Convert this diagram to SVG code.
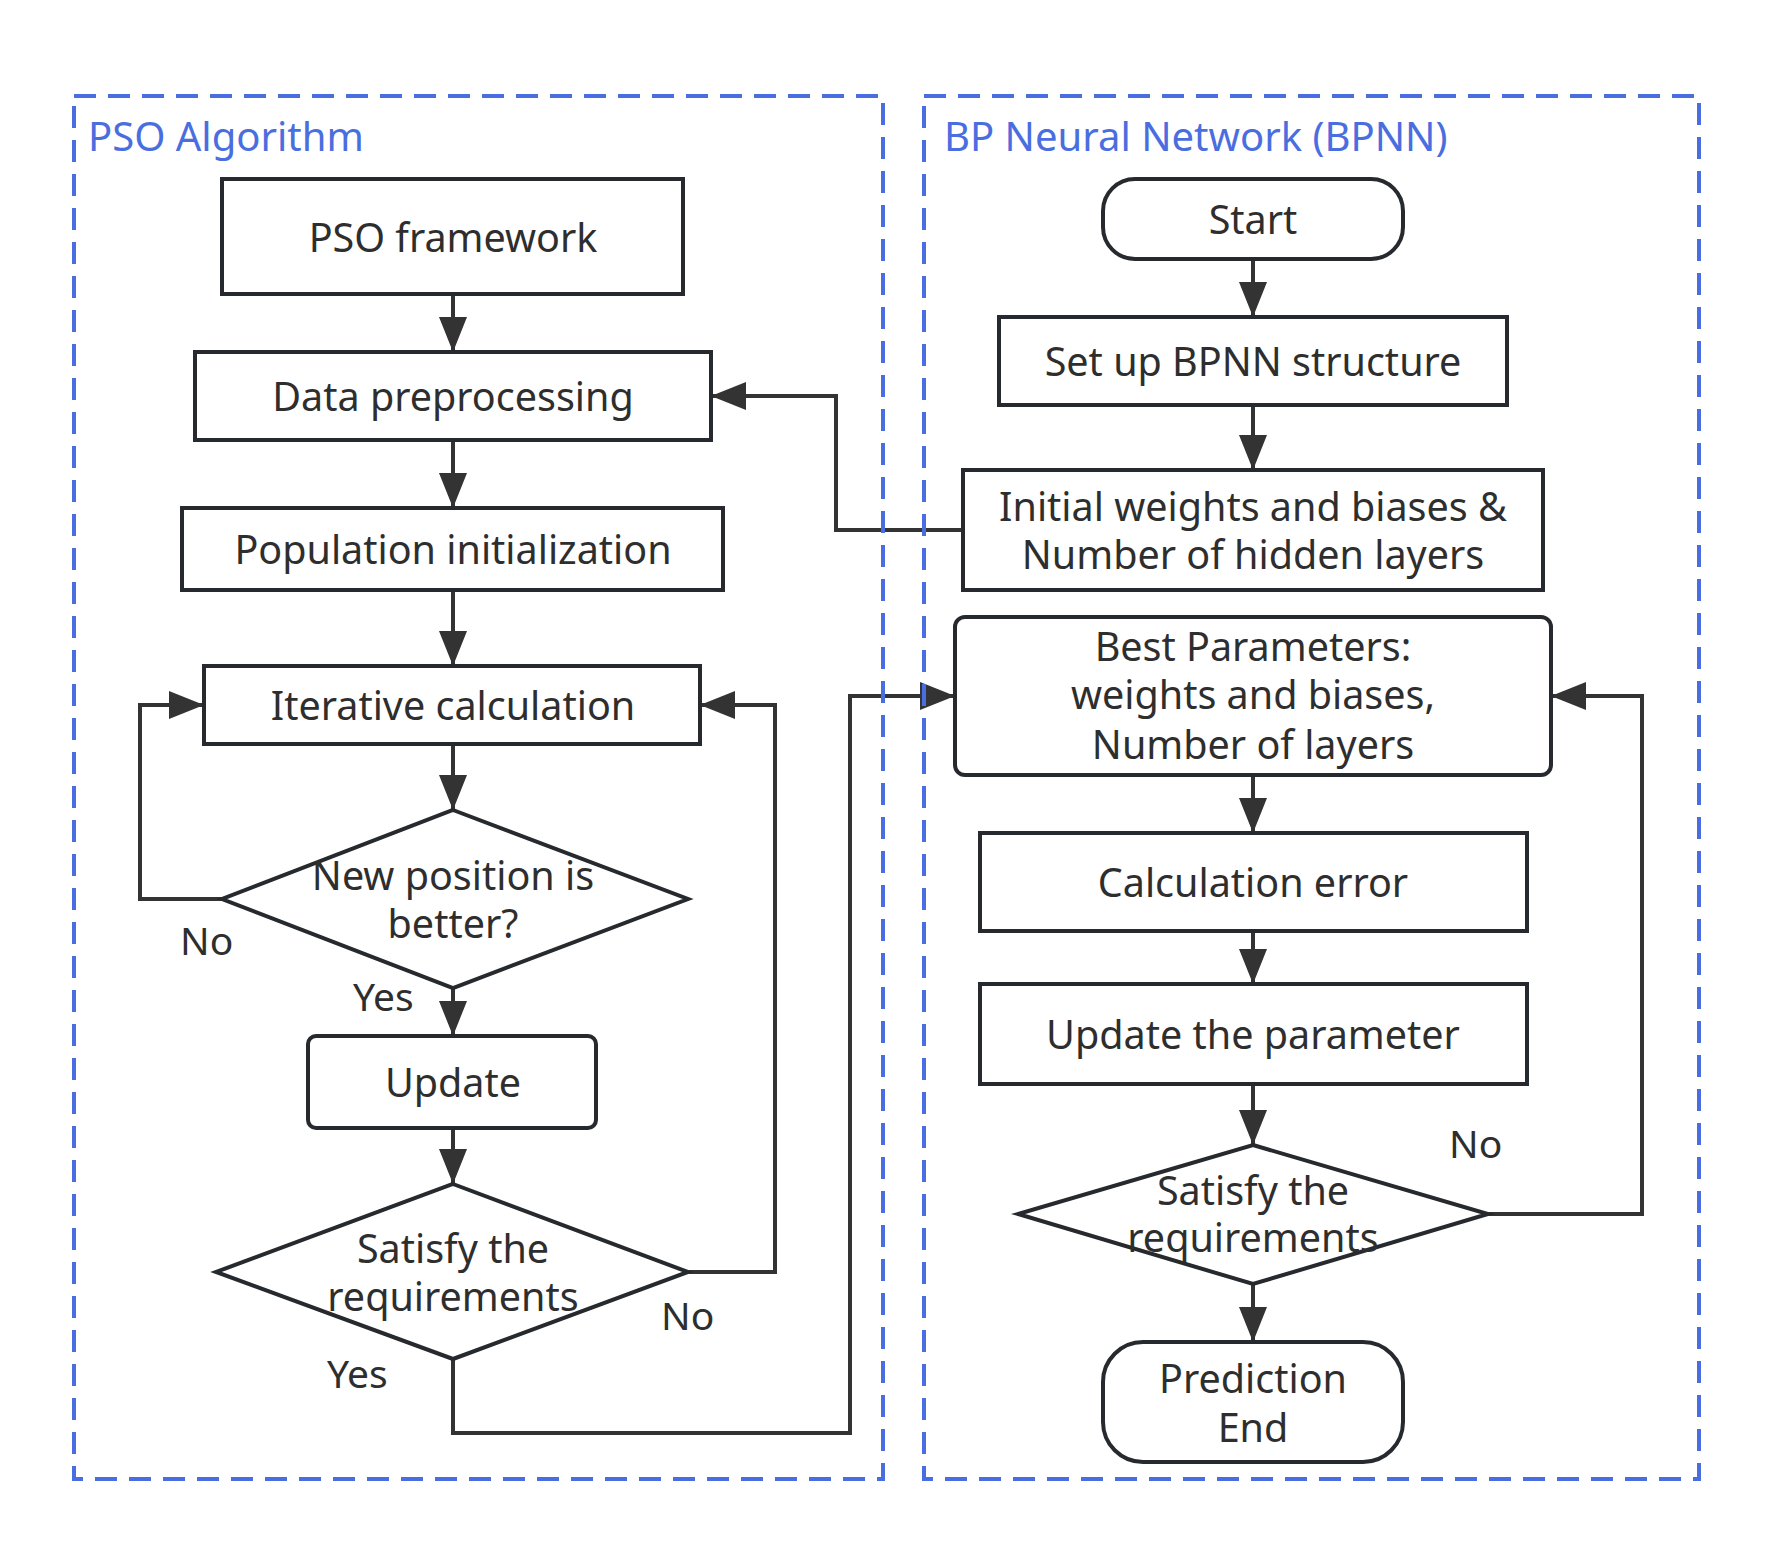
<svg xmlns="http://www.w3.org/2000/svg" width="1774" height="1555" viewBox="0 0 1774 1555">
<style>
.box{fill:#ffffff;stroke:#262a2e;stroke-width:4}
.con{fill:none;stroke:#333333;stroke-width:4}
.grp{fill:none;stroke:#4a6ee0;stroke-width:4;stroke-dasharray:22 12}
.t{font-family:"Noto Sans","Open Sans",sans-serif;font-size:39.5px;fill:#2e2e2e;text-anchor:middle}
.lbl{font-family:"Noto Sans","Open Sans",sans-serif;font-size:39px;fill:#2e2e2e}
.title{font-family:"Noto Sans","Open Sans",sans-serif;font-size:40px;fill:#4a6ee0}
</style>
<defs>
<marker id="arr" markerUnits="userSpaceOnUse" markerWidth="38" markerHeight="30" refX="35" refY="14" orient="auto">
<path d="M0,0 L35,14 L0,28 Z" fill="#333333"/>
</marker>
</defs>
<rect width="1774" height="1555" fill="#ffffff"/>
<g id="connectors">
<path class="con" d="M453 294 V352" marker-end="url(#arr)"/>
<path class="con" d="M453 440 V508" marker-end="url(#arr)"/>
<path class="con" d="M453 590 V666" marker-end="url(#arr)"/>
<path class="con" d="M453 744 V810" marker-end="url(#arr)"/>
<path class="con" d="M453 988 V1036" marker-end="url(#arr)"/>
<path class="con" d="M222 899 H140 V705 H204" marker-end="url(#arr)"/>
<path class="con" d="M453 1128 V1184" marker-end="url(#arr)"/>
<path class="con" d="M688 1272 H775 V705 H700" marker-end="url(#arr)"/>
<path class="con" d="M453 1359 V1433 H850 V696 H955" marker-end="url(#arr)"/>
<path class="con" d="M963 530 H836 V396 H711" marker-end="url(#arr)"/>
<path class="con" d="M1253 259 V317" marker-end="url(#arr)"/>
<path class="con" d="M1253 405 V470" marker-end="url(#arr)"/>
<path class="con" d="M1253 775 V833" marker-end="url(#arr)"/>
<path class="con" d="M1253 931 V984" marker-end="url(#arr)"/>
<path class="con" d="M1253 1084 V1145" marker-end="url(#arr)"/>
<path class="con" d="M1488 1214 H1642 V696 H1551" marker-end="url(#arr)"/>
<path class="con" d="M1253 1284 V1342" marker-end="url(#arr)"/>
<text class="lbl" x="180" y="955">No</text>
<text class="lbl" x="353" y="1011">Yes</text>
<text class="lbl" x="661" y="1330">No</text>
<text class="lbl" x="327" y="1388">Yes</text>
<text class="lbl" x="1449" y="1158">No</text>
</g>
<g id="pso-group">
<rect class="grp" x="74" y="96" width="809" height="1383"/>
<text class="title" x="88" y="151">PSO Algorithm</text>
</g>
<g id="bpnn-group">
<rect class="grp" x="924" y="96" width="775" height="1383"/>
<text class="title" x="944" y="151">BP Neural Network (BPNN)</text>
</g>
<g id="pso-framework">
<rect class="box" x="222" y="179" width="461" height="115"/>
<text class="t" x="453" y="252">PSO framework</text>
</g>
<g id="data-preprocessing">
<rect class="box" x="195" y="352" width="516" height="88"/>
<text class="t" x="453" y="411">Data preprocessing</text>
</g>
<g id="population-init">
<rect class="box" x="182" y="508" width="541" height="82"/>
<text class="t" x="453" y="564">Population initialization</text>
</g>
<g id="iterative-calc">
<rect class="box" x="204" y="666" width="496" height="78"/>
<text class="t" x="453" y="720">Iterative calculation</text>
</g>
<g id="new-position">
<polygon class="box" points="453,810 688,899 453,988 222,899"/>
<text class="t" x="453" y="890">New position is<tspan x="453" dy="48">better?</tspan></text>
</g>
<g id="update">
<rect class="box" x="308" y="1036" width="288" height="92" rx="8"/>
<text class="t" x="453" y="1097">Update</text>
</g>
<g id="satisfy-pso">
<polygon class="box" points="453,1184 688,1272 453,1359 216,1272"/>
<text class="t" x="453" y="1263">Satisfy the<tspan x="453" dy="48">requirements</tspan></text>
</g>
<g id="start">
<rect class="box" x="1103" y="179" width="300" height="80" rx="32"/>
<text class="t" x="1253" y="234">Start</text>
</g>
<g id="setup-bpnn">
<rect class="box" x="999" y="317" width="508" height="88"/>
<text class="t" x="1253" y="376">Set up BPNN structure</text>
</g>
<g id="initial-weights">
<rect class="box" x="963" y="470" width="580" height="120"/>
<text class="t" x="1253" y="521">Initial weights and biases &amp;<tspan x="1253" dy="48">Number of hidden layers</tspan></text>
</g>
<g id="best-params">
<rect class="box" x="955" y="617" width="596" height="158" rx="10"/>
<text class="t" x="1253" y="661">Best Parameters:<tspan x="1253" dy="48">weights and biases,</tspan><tspan x="1253" dy="50">Number of layers</tspan></text>
</g>
<g id="calc-error">
<rect class="box" x="980" y="833" width="547" height="98"/>
<text class="t" x="1253" y="897">Calculation error</text>
</g>
<g id="update-param">
<rect class="box" x="980" y="984" width="547" height="100"/>
<text class="t" x="1253" y="1049">Update the parameter</text>
</g>
<g id="satisfy-bpnn">
<polygon class="box" points="1253,1145 1488,1214 1253,1284 1018,1214"/>
<text class="t" x="1253" y="1205">Satisfy the<tspan x="1253" dy="47">requirements</tspan></text>
</g>
<g id="prediction-end">
<rect class="box" x="1103" y="1342" width="300" height="120" rx="40"/>
<text class="t" x="1253" y="1393">Prediction<tspan x="1253" dy="49">End</tspan></text>
</g>
</svg>
